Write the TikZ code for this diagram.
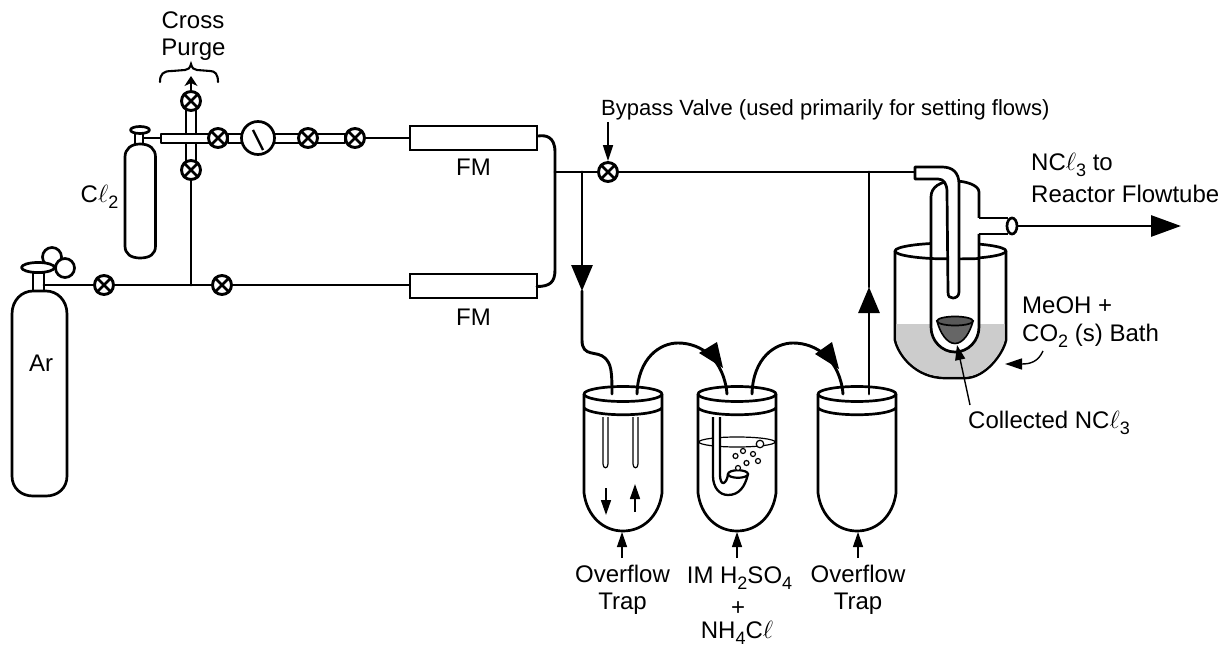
\documentclass[tikz,border=0pt]{standalone}
\usepackage{fontspec}
\setmainfont{Liberation Sans}
\usetikzlibrary{arrows.meta,shapes.geometric}
\newcommand{\lowtxt}[1]{\raisebox{-0.25em}{\fontsize{18}{18}\selectfont #1}}
\newcommand{\scriptell}{$\ell$}
\tikzset{
  pipe/.style={line width=2.9pt,line cap=round,line join=round},
  wall/.style={line width=2.7pt,line join=round},
  thin wall/.style={line width=1.2pt},
  valve/.style={circle,draw,line width=2.9pt,fill=white,minimum size=19pt,inner sep=0pt},
  lab/.style={inner sep=0pt,anchor=base,font=\fontsize{24}{28}\selectfont},
  labw/.style={lab,anchor=base west},
  fm/.style={draw,line width=2.7pt,fill=white,minimum width=127pt,minimum height=24pt,inner sep=0pt},
  bighead/.style={-{Triangle[width=21pt,length=26pt]},pipe},
  smallhead/.style={-{Triangle[width=10pt,length=15pt]},line width=1.6pt},
  bubble/.style={circle,draw,line width=1.2pt,inner sep=0pt,fill=white}
}
\newcommand{\valveat}[2]{\node[valve] (#1) at (#2) {};
  \draw[line width=2.6pt] (#1.45)--(#1.225) (#1.135)--(#1.-45);}
\newcommand{\trap}[1]{%
  \begin{scope}[shift={(#1,0)}]
  \draw[wall,fill=white] (-39,394) -- (-39,493) .. controls (-36,516) and (-20,531) .. (0,531)
     .. controls (20,531) and (36,516) .. (39,493) -- (39,394);
  \draw[wall] (-39,408) .. controls (-30,417) and (30,417) .. (39,408);
  \draw[wall] (0,394) ellipse [x radius=39,y radius=7.5];
  \end{scope}}
\begin{document}
\begin{tikzpicture}[x=1pt,y=-1pt]
\useasboundingbox (0,0) rectangle (1221,647);
% ---- Ar cylinder
\coordinate (arout) at (44,285);
\coordinate (tee) at (191,285);
\coordinate (fmjoin) at (555,172);
\coordinate (drop) at (582,172);
\coordinate (rise) at (869,172);
\coordinate (condin) at (915,172);
\draw[pipe] (arout) -- (tee);
\draw[pipe] (tee) -- (410,285);
\draw[wall] (33,291) -- (33,273) -- (44,273) -- (44,291);
\draw[wall,fill=white] (12,314) .. controls (12,300) and (22,291) .. (33,291) -- (46,291)
   .. controls (57,291) and (67,300) .. (67,314) -- (67,476) .. controls (67,488) and (58,496) .. (46,496) -- (33,496)
   .. controls (21,496) and (12,488) .. (12,476) -- cycle;
\draw[wall,fill=white] (52,257) circle [radius=9.5];
\draw[wall,fill=white] (65,268) circle [radius=9.5];
\draw[wall,fill=white] (38,267.5) ellipse [x radius=16.5,y radius=5];
\node[lab] (ar) at (41,371) {Ar};
% ---- Cl2 cylinder
\draw[line width=1.7pt] (143,138) -- (161,138);
\draw[wall] (135,144) -- (135,133) (143,133) -- (143,144);
\draw[wall,fill=white] (140,130) ellipse [x radius=9.5,y radius=3.5];
\draw[wall,fill=white] (125,157) .. controls (125,149) and (131,144) .. (140,144)
   .. controls (150,144) and (155.5,149) .. (155.5,157) -- (155.5,246) .. controls (155.5,254) and (150,258) .. (140,258)
   .. controls (131,258) and (125,254) .. (125,246) -- cycle;
\node[lab,anchor=base east] (cl) at (118.5,203) {C\scriptell\lowtxt{2}};
% ---- purge cross
\draw[wall,fill=white] (186,105) rectangle (196,165);
\draw[wall,fill=white] (161,134) rectangle (210,143);
\draw[wall,fill=white] (228,134) rectangle (345,143);
\draw[pipe] (191,178) -- (tee);
\valveat{vtop}{191,101}
\valveat{vlow}{191,170}
\valveat{vh}{218,138}
\valveat{vb}{308,138}
\valveat{vc}{355,138}
\valveat{va}{104,285}
\valveat{vd}{222,285}
\node[circle,draw,line width=2.7pt,fill=white,minimum size=33pt,inner sep=0pt] (gauge) at (258,138) {};
\draw[line width=2.4pt] (253,130) -- (263,150);
% purge arrow and brace
\coordinate (purgetip) at (191,76);
\draw[line width=2.6pt,-{Stealth[width=13pt,length=10pt,inset=3pt]}] (vtop) -- (purgetip);
\draw[line width=2.1pt,line cap=round] (160,82) .. controls (160,74) and (163,71) .. (172,71) -- (185,70)
   .. controls (188,70) and (190,68) .. (191,64) .. controls (192,68) and (194,70) .. (197,70) -- (210,71)
   .. controls (215,71) and (218,74) .. (218,82);
\node[lab] (cp1) at (193,29) {Cross};
\node[lab] (cp2) at (193.5,56) {Purge};
% ---- flowmeters
\node[fm] (fm1) at (473.5,138) {};
\node[fm] (fm2) at (473.5,286) {};
\draw[pipe] (vc) -- (fm1);
\node[lab] (fm1l) at (473.5,176) {FM};
\node[lab] (fm2l) at (473.5,325) {FM};
\draw[pipe] (fm1.east) ++(0,-2) .. controls (545,135) and (555,136) .. (555,152) -- (fmjoin) -- (555,270)
   .. controls (555,282) and (550,286.5) .. (537,286.5);
% ---- main line
\draw[pipe] (fmjoin) -- (drop);
\draw[pipe] (drop) -- (condin);
\valveat{vby}{608,172}
\node[labw,font=\fontsize{22}{26}\selectfont] (byl) at (601,116) {Bypass Valve (used primarily for setting flows)};
\coordinate (bya) at (608,122);
\draw[line width=1.6pt,-{Triangle[width=10pt,length=16pt]}] (bya) -- (vby);
% ---- traps
\trap{623}
\trap{737}
\trap{857}
% drop to trap 1
\coordinate (dropm) at (582,291);
\coordinate (t1in) at (612,394);
\coordinate (t1out) at (637,394);
\coordinate (t2in) at (727,394);
\coordinate (t2out) at (752,394);
\coordinate (t3in) at (843,394);
\coordinate (t3out) at (869,394);
\coordinate (risem) at (869,287);
\draw[bighead] (drop) -- (dropm);
\draw[pipe] (dropm) -- (582,340) .. controls (582,358) and (597,350) .. (605,358) .. controls (611,364) and (612,370) .. (t1in);
\draw[pipe] (t1out) .. controls (638,358) and (660,343) .. (678,343) .. controls (702,343) and (724,360) .. (t2in);
\fill (723,368) -- (699,353) -- (717,342) -- cycle;
\draw[pipe] (t2out) .. controls (753,358) and (775,343) .. (793,343) .. controls (817,343) and (840,360) .. (t3in);
\fill (839,369) -- (815,354) -- (832,342) -- cycle;
\draw[bighead] (t3out) -- (risem);
\draw[pipe] (risem) -- (rise);
% trap 1 internals
\draw[thin wall] (603,417) -- (603,464) .. controls (603,469) and (608,469) .. (608,464) -- (608,417);
\draw[thin wall] (633,417) -- (633,464) .. controls (633,469) and (638,469) .. (638,464) -- (638,417);
\coordinate (ad1) at (606,488); \coordinate (ad2) at (606,515);
\coordinate (au1) at (635,512); \coordinate (au2) at (635,484);
\draw[smallhead] (ad1) -- (ad2);
\draw[smallhead] (au1) -- (au2);
% trap 2 internals
\draw[thin wall] (737,442) ellipse [x radius=38,y radius=5];
\draw[line width=2.3pt,fill=white,line join=round] (713,417) -- (713,476) .. controls (713,487) and (719,495) .. (728,495)
   .. controls (739,495) and (745,487) .. (748,474) -- (728,474)
   .. controls (727,484) and (720,488) .. (720,474) -- (720,417);
\draw[line width=2.2pt,fill=white] (738,474) ellipse [x radius=10,y radius=3.8];
\foreach \nm/\px/\py/\rr in {b1/760/444/7.5,b2/743/451/5,b3/753/454/5,b4/735.5/456/5,b5/746.5/463/5,b6/758/461/5,b7/738/468/5}
  {\node[bubble,minimum size=\rr pt] (\nm) at (\px,\py) {};}
% bottom arrows and labels
\foreach \nm/\px in {la/622,lb/737,lc/858}
  {\coordinate (\nm a) at (\px,558); \coordinate (\nm b) at (\px,532);
   \draw[smallhead,line width=1.3pt] (\nm a) -- (\nm b);}
\node[lab] (ov1) at (622.5,582) {Overflow};
\node[lab] (tr1) at (622.5,609) {Trap};
\node[lab] (ov3) at (858,582) {Overflow};
\node[lab] (tr3) at (858,609) {Trap};
\node[lab] (acid) at (739.5,583) {IM H\lowtxt{2}SO\lowtxt{4}};
\node[lab] (plus) at (738,615) {+};
\node[lab] (ammon) at (737,638) {NH\lowtxt{4}C\scriptell};
% ---- bath and condenser
\draw[wall,fill=white] (895,251) -- (895,340) .. controls (898,354) and (915,378) .. (945,378) -- (965,378)
   .. controls (985,378) and (1003,354) .. (1006,340) -- (1006,251);
\fill[black!20] (896.3,324) -- (896.3,340) .. controls (899,353) and (915,376.7) .. (945,376.7) -- (965,376.7)
   .. controls (985,376.7) and (1002,353) .. (1004.7,340) -- (1004.7,324) -- cycle;
\draw[wall] (950.5,251) ellipse [x radius=55.5,y radius=8];
\draw[wall,fill=white] (979,218) -- (979,192) .. controls (979,185) and (965,181) .. (955,181)
  .. controls (940,181) and (931,187) .. (931,197) -- (931,327) .. controls (931,341) and (942,352) .. (955,352)
  .. controls (968,352) and (979,341) .. (979,327) -- (979,234);
\draw[wall,fill=white] (979,218) -- (1008,218) (979,234) -- (1008,234);
\draw[wall] (931,258.5) .. controls (940,259) and (970,259) .. (979,258.5);
\draw[wall,fill=white] (915,167) -- (942,167) .. controls (952,167) and (959,172) .. (959,184) -- (959,292)
  .. controls (959,297) and (955,298) .. (953,298) .. controls (950,298) and (948,297) .. (948,292)
  -- (947,192) .. controls (947,184) and (944,179) .. (938,179) -- (915,179) -- cycle;
\node[ellipse,draw,line width=2.7pt,fill=white,minimum width=10pt,minimum height=16pt,inner sep=0pt] (outlet) at (1012,226) {};
% outlet arrow
\coordinate (outtip) at (1181,226);
\draw[pipe,-{Triangle[width=21pt,length=30pt]}] (outlet) -- (outtip);
% collected cone
\draw[line width=1.6pt,fill=black!60] (937,321) .. controls (940,333) and (947,343.5) .. (955,343.5) .. controls (963,343.5) and (970,333) .. (973,321) -- cycle;
\draw[line width=1.7pt,fill=black!65] (955,321) ellipse [x radius=18,y radius=4.5];
\coordinate (colla) at (970,405);
\coordinate (collb) at (957,345);
\draw[line width=1.4pt,-{Triangle[width=10pt,length=15pt]}] (colla) -- (collb);
\coordinate (batha) at (1043,351);
\coordinate (bathb) at (1005,364);
\draw[line width=1.4pt,-{Triangle[width=11pt,length=17pt]}] (batha) .. controls (1038,362) and (1030,364) .. (bathb);
\node[labw] (nc1) at (1031,171) {NC\scriptell\lowtxt{3} to};
\node[labw] (nc2) at (1031,203) {Reactor Flowtube};
\node[labw] (me1) at (1022,313) {MeOH +};
\node[labw] (me2) at (1022,341) {CO\lowtxt{2} (s) Bath};
\node[labw] (coll) at (968,428) {Collected NC\scriptell\lowtxt{3}};
\end{tikzpicture}
\end{document}
